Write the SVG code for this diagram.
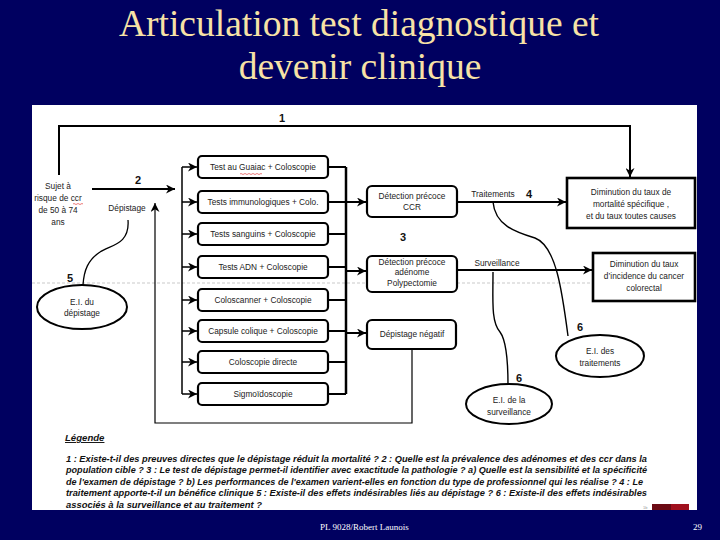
<svg xmlns="http://www.w3.org/2000/svg" width="720" height="540" viewBox="0 0 720 540">
<defs>
<marker id="ah" viewBox="0 0 10 10" refX="10" refY="5" markerWidth="9" markerHeight="9" markerUnits="userSpaceOnUse" orient="auto">
<path d="M0,0 L10,5 L0,10 L3,5 z" fill="#000"/>
</marker>
<style>
.title{font-family:"Liberation Serif",serif;font-size:37.5px;fill:#F7E2A6;text-anchor:middle}
.foot{font-family:"Liberation Serif",serif;font-size:9px;fill:#fff}
.box{fill:#fff;stroke:#000;stroke-width:2.2}
.bigbox{fill:#fff;stroke:#000;stroke-width:2.6}
.t{font-family:"Liberation Sans",Arial,sans-serif;font-size:8.3px;fill:#222;text-anchor:middle}
.num{font-family:"Liberation Sans",Arial,sans-serif;font-size:11px;font-weight:bold;fill:#111;text-anchor:middle}
.ln{fill:none;stroke:#000}
.leg{font-family:"Liberation Sans",Arial,sans-serif;font-size:9.6px;font-weight:bold;font-style:italic;fill:#111}
</style>
</defs>
<rect x="0" y="0" width="720" height="540" fill="#000060"/>
<text class="title" x="359" y="36">Articulation test diagnostique et</text>
<text class="title" x="360" y="79">devenir clinique</text>
<rect x="32" y="105" width="665" height="405" fill="#fff"/>
<line x1="32" y1="283" x2="697" y2="283" stroke="#bbb" stroke-width="0.8" stroke-dasharray="3,2"/>

<g id="connectors">
<path class="ln" stroke-width="2" d="M59,175 V126 H630 V177" marker-end="url(#ah)"/>
<path class="ln" stroke-width="2" d="M92,189 H175" marker-end="url(#ah)"/>
<path class="ln" stroke-width="1.2" d="M412,349 V423 H155 V203" marker-end="url(#ah)"/>
<path class="ln" stroke-width="1.3" d="M128,220 C130,245 110,245 100,252 C88,260 84,270 83,285"/>
<path class="ln" stroke-width="1.5" d="M182,167 V394"/>
<path class="ln" stroke-width="1.5" d="M182,167 H197" marker-end="url(#ah)"/>
<path class="ln" stroke-width="1.5" d="M182,202 H197" marker-end="url(#ah)"/>
<path class="ln" stroke-width="1.5" d="M182,234 H197" marker-end="url(#ah)"/>
<path class="ln" stroke-width="1.5" d="M182,267 H197" marker-end="url(#ah)"/>
<path class="ln" stroke-width="1.5" d="M182,300 H197" marker-end="url(#ah)"/>
<path class="ln" stroke-width="1.5" d="M182,331 H197" marker-end="url(#ah)"/>
<path class="ln" stroke-width="1.5" d="M182,362 H197" marker-end="url(#ah)"/>
<path class="ln" stroke-width="1.5" d="M182,394 H197" marker-end="url(#ah)"/>
<path class="ln" stroke-width="2.5" d="M346,167 V394"/>
<path class="ln" stroke-width="2" d="M328,167 H346 M328,202 H346 M328,234 H346 M328,267 H346 M328,300 H346 M328,331 H346 M328,362 H346 M328,394 H346"/>
<path class="ln" stroke-width="2" d="M346,202 H366" marker-end="url(#ah)"/>
<path class="ln" stroke-width="2" d="M346,271 H366" marker-end="url(#ah)"/>
<path class="ln" stroke-width="2" d="M346,333 H366" marker-end="url(#ah)"/>
<path class="ln" stroke-width="2" d="M457,202 H566" marker-end="url(#ah)"/>
<path class="ln" stroke-width="2" d="M457,270 H592" marker-end="url(#ah)"/>
<path class="ln" stroke-width="1.4" d="M493,202 C495,225 515,232 535,238 C556,246 562,290 568,336"/>
<path class="ln" stroke-width="1.4" d="M493,272 C493,300 491,322 500,332 C506,340 508,360 508,385"/>
</g>

<g id="labels">
<text class="num" x="282" y="122">1</text>
<text class="num" x="138" y="184">2</text>
<text class="num" x="403" y="241">3</text>
<text class="num" x="529" y="198">4</text>
<text class="num" x="70" y="282">5</text>
<text class="num" x="580" y="331">6</text>
<text class="num" x="519" y="382">6</text>
<text class="t" x="127" y="211">Dépistage</text>
<text class="t" x="493" y="197">Traitements</text>
<text class="t" x="497" y="266">Surveillance</text>
</g>

<g id="sujet">
<text class="t" x="58" y="189">Sujet à</text>
<text class="t" x="58" y="201">risque de ccr</text>
<text class="t" x="58" y="213">de 50 à 74</text>
<text class="t" x="58" y="225">ans</text>
<path d="M73,204 q1,-1 2,0 q1,1 2,0 q1,-1 2,0 q1,1 2,0 q1,-1 2,0" fill="none" stroke="#d22" stroke-width="0.6"/>
</g>

<g id="test1"><rect class="box" x="198" y="156" width="130" height="22" rx="4"/><text class="t" x="263" y="170">Test au Guaiac + Coloscopie</text>
<path d="M240,174 q1,-1 2,0 q1,1 2,0 q1,-1 2,0 q1,1 2,0 q1,-1 2,0 q1,1 2,0 q1,-1 2,0 q1,1 2,0 q1,-1 2,0 q1,1 2,0 q1,-1 2,0" fill="none" stroke="#d22" stroke-width="0.6"/></g>
<g id="test2"><rect class="box" x="198" y="191" width="130" height="22" rx="4"/><text class="t" x="263" y="205">Tests immunologiques + Colo.</text></g>
<g id="test3"><rect class="box" x="198" y="223" width="130" height="22" rx="4"/><text class="t" x="263" y="237">Tests sanguins + Coloscopie</text></g>
<g id="test4"><rect class="box" x="198" y="256" width="130" height="22" rx="4"/><text class="t" x="263" y="270">Tests ADN + Coloscopie</text></g>
<g id="test5"><rect class="box" x="198" y="289" width="130" height="22" rx="4"/><text class="t" x="263" y="303">Coloscanner + Coloscopie</text></g>
<g id="test6"><rect class="box" x="198" y="320" width="130" height="22" rx="4"/><text class="t" x="263" y="334">Capsule colique + Coloscopie</text></g>
<g id="test7"><rect class="box" x="198" y="351" width="130" height="22" rx="4"/><text class="t" x="263" y="365">Coloscopie directe</text></g>
<g id="test8"><rect class="box" x="198" y="383" width="130" height="22" rx="4"/><text class="t" x="263" y="397">Sigmoïdoscopie</text></g>

<g id="ccr"><rect class="box" x="367" y="186" width="90" height="31" rx="5"/>
<text class="t" x="412" y="199">Détection précoce</text><text class="t" x="412" y="210">CCR</text></g>
<g id="adenome"><rect class="box" x="367" y="256" width="90" height="36" rx="5"/>
<text class="t" x="412" y="265">Détection précoce</text><text class="t" x="412" y="275">adénome</text><text class="t" x="412" y="286">Polypectomie</text></g>
<g id="negatif"><rect class="box" x="367" y="320" width="89" height="29" rx="5"/>
<text class="t" x="412" y="337">Dépistage négatif</text></g>

<g id="mortalite"><rect class="bigbox" x="567" y="178" width="128" height="50"/>
<text class="t" x="631" y="195">Diminution du taux de</text><text class="t" x="631" y="207">mortalité  spécifique ,</text><text class="t" x="631" y="219">et du taux toutes causes</text></g>
<g id="incidence"><rect class="bigbox" x="593" y="253" width="102" height="48"/>
<text class="t" x="644" y="267">Diminution du taux</text><text class="t" x="644" y="279">d’incidence du cancer</text><text class="t" x="644" y="291">colorectal</text></g>

<g id="ei-depistage"><ellipse cx="82" cy="307" rx="45" ry="22" fill="#fff" stroke="#000" stroke-width="2"/>
<text class="t" x="82" y="305">E.I. du</text><text class="t" x="82" y="316">dépistage</text></g>
<g id="ei-traitements"><ellipse cx="600" cy="356" rx="44" ry="21" fill="#fff" stroke="#000" stroke-width="2"/>
<text class="t" x="600" y="354">E.I. des</text><text class="t" x="600" y="366">traitements</text></g>
<g id="ei-surveillance"><ellipse cx="509" cy="404" rx="43" ry="20" fill="#fff" stroke="#000" stroke-width="2"/>
<text class="t" x="509" y="403">E.I. de la</text><text class="t" x="509" y="415">surveillance</text></g>

<g id="legende">
<text class="leg" x="65" y="441" text-decoration="underline">Légende</text>
<text class="leg" x="66" y="461.5" textLength="581" lengthAdjust="spacingAndGlyphs">1 : Existe-t-il des preuves directes que le dépistage réduit la mortalité ? 2 : Quelle est la prévalence des adénomes et des ccr dans la</text>
<text class="leg" x="66" y="473" textLength="581" lengthAdjust="spacingAndGlyphs">population cible ? 3 : Le test de dépistage permet-il identifier avec exactitude la pathologie ? a) Quelle est la sensibilité et la spécificité</text>
<text class="leg" x="66" y="484.5" textLength="577" lengthAdjust="spacingAndGlyphs">de l'examen de dépistage ? b) Les performances de l'examen varient-elles en fonction du type de professionnel qui les réalise ? 4 : Le</text>
<text class="leg" x="66" y="496" textLength="581" lengthAdjust="spacingAndGlyphs">traitement apporte-t-il un bénéfice clinique  5 : Existe-il des effets indésirables liés au dépistage ? 6 : Existe-il des effets indésirables</text>
<text class="leg" x="66" y="507.5" textLength="196" lengthAdjust="spacingAndGlyphs">associés à la surveillance et  au traitement ?</text>
</g>

<rect x="652" y="504" width="19" height="6" fill="#6B0A14"/>
<rect x="671" y="504" width="18" height="6" fill="#A0101E"/>
<text x="643" y="509" font-family="Liberation Sans, sans-serif" font-size="4" fill="#999">1b</text>
<text class="foot" x="320" y="530">PL 9028/Robert Launois</text>
<text class="foot" x="693" y="530">29</text>
</svg>
